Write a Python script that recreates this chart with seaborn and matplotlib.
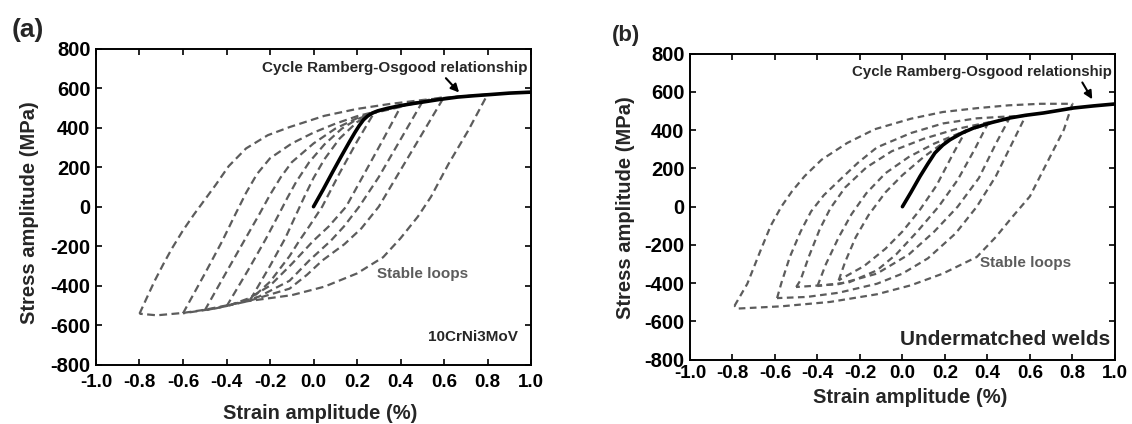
import numpy as np
import pandas as pd
import matplotlib
matplotlib.use("Agg")
import matplotlib.pyplot as plt
import seaborn as sns

# ============================================================
# DATA - strain amplitude in %, stress in MPa
# ============================================================

X_TICKS = [-1.0, -0.8, -0.6, -0.4, -0.2, 0.0, 0.2, 0.4, 0.6, 0.8, 1.0]
Y_TICKS = [-800, -600, -400, -200, 0, 200, 400, 600, 800]

# ---- panel (a) : 10CrNi3MoV ----
A_RO_STRAIN = [0.0, 0.045, 0.088, 0.125, 0.165, 0.19, 0.21, 0.23, 0.25, 0.27, 0.295, 0.34,
               0.387, 0.45, 0.51, 0.58, 0.663, 0.74, 0.816, 0.9, 1.0]
A_RO_STRESS = [0, 88, 176, 250, 328, 375, 410, 440, 460, 474, 485, 498,
               509, 521, 531, 543, 555, 562, 568, 575, 580]

A1_STRAIN = [-0.80, -0.77, -0.73, -0.69, -0.65, -0.6, -0.55, -0.5, -0.45, -0.39, -0.31, -0.21,
             -0.11, 0.05, 0.2, 0.35, 0.5, 0.65, 0.80, 0.71, 0.62, 0.54, 0.48, 0.40, 0.32, 0.2,
             0.05, -0.1, -0.3, -0.5, -0.6, -0.72, -0.80]
A1_STRESS = [-542, -470, -375, -290, -210, -120, -40, 35, 110, 205, 295, 362,
             403, 460, 495, 520, 540, 556, 568, 383, 215, 50, -50, -160, -256, -338,
             -405, -448, -478, -522, -538, -550, -542]

A2_STRAIN = [-0.6, -0.5, -0.42, -0.36, -0.31, -0.26, -0.2, -0.1, 0.0, 0.1, 0.2, 0.28, 0.4, 0.5, 0.6,
             0.5, 0.4, 0.3, 0.22, 0.142, 0.04, -0.03, -0.11, -0.3, -0.45, -0.6]
A2_STRESS = [-540, -340, -175, -40, 70, 165, 245, 320, 375, 420, 458, 480, 512, 535, 555,
             370, 185, 0, -110, -190, -273, -345, -415, -478, -515, -540]

A3_STRAIN = [-0.5, -0.4, -0.32, -0.25, -0.2, -0.15, -0.1, 0.0, 0.1, 0.2, 0.28, 0.4, 0.5,
             0.4, 0.3, 0.21, 0.14, 0.08, -0.02, -0.11, -0.25, -0.4, -0.5]
A3_STRESS = [-525, -330, -175, -40, 60, 150, 225, 320, 395, 448, 478, 508, 530,
             340, 150, 0, -100, -172, -273, -375, -455, -503, -525]

A4_STRAIN = [-0.4, -0.3, -0.22, -0.16, -0.12, -0.08, -0.02, 0.05, 0.13, 0.2, 0.28, 0.4,
             0.32, 0.24, 0.15, 0.07, 0.0, -0.1, -0.2, -0.3, -0.4]
A4_STRESS = [-505, -320, -165, -40, 45, 125, 225, 315, 395, 443, 475, 505,
             340, 180, 0, -100, -172, -290, -400, -465, -505]

A5_STRAIN = [-0.29, -0.2, -0.13, -0.08, -0.04, 0.0, 0.05, 0.12, 0.2, 0.28,
             0.2, 0.12, 0.04, -0.02, -0.065, -0.11, -0.2, -0.29]
A5_STRESS = [-470, -300, -160, -40, 55, 145, 240, 345, 428, 478,
             330, 170, 0, -100, -172, -250, -380, -470]

# ---- panel (b) : undermatched welds ----
B_RO_STRAIN = [0.0, 0.04, 0.083, 0.12, 0.153, 0.19, 0.224, 0.28, 0.334, 0.42, 0.506, 0.58,
               0.664, 0.735, 0.805, 0.9, 1.0]
B_RO_STRESS = [0, 75, 159, 225, 281, 322, 350, 385, 411, 440, 464, 478,
               490, 503, 516, 527, 537]

B1_STRAIN = [-0.79, -0.73, -0.67, -0.62, -0.57, -0.52, -0.46, -0.38, -0.26, -0.13, 0.04, 0.19, 0.35,
             0.5, 0.65, 0.8, 0.76, 0.68, 0.6, 0.52, 0.44, 0.35, 0.19, 0.04, -0.12, -0.34, -0.57,
             -0.78, -0.79]
B1_STRESS = [-518, -403, -235, -100, 0, 80, 160, 246, 333, 405, 460, 495, 515,
             530, 538, 538, 403, 229, 54, -50, -158, -263, -350, -411, -458, -498, -521,
             -533, -518]

B2_STRAIN = [-0.59, -0.57, -0.53, -0.48, -0.43, -0.37, -0.29, -0.21, -0.12, 0.04, 0.19, 0.35, 0.47,
             0.58, 0.52, 0.44, 0.35, 0.25, 0.12, 0.0, -0.12, -0.3, -0.45, -0.59]
B2_STRESS = [-478, -400, -263, -132, -25, 60, 145, 229, 310, 385, 435, 462, 470,
             475, 340, 160, 0, -140, -270, -350, -403, -450, -472, -478]

B3_STRAIN = [-0.5, -0.48, -0.44, -0.39, -0.34, -0.27, -0.17, -0.05, 0.1, 0.25, 0.4, 0.5,
             0.44, 0.36, 0.26, 0.15, 0.03, -0.12, -0.3, -0.5]
B3_STRESS = [-420, -385, -260, -120, -10, 100, 205, 290, 355, 405, 440, 455,
             330, 150, 0, -130, -250, -350, -405, -420]

B4_STRAIN = [-0.4, -0.36, -0.3, -0.24, -0.17, -0.08, 0.03, 0.15, 0.27, 0.4,
             0.34, 0.26, 0.17, 0.07, -0.03, -0.12, -0.25, -0.4]
B4_STRESS = [-415, -300, -160, -40, 70, 175, 260, 330, 385, 430,
             300, 140, 0, -130, -250, -333, -395, -415]

B5_STRAIN = [-0.3, -0.27, -0.22, -0.16, -0.08, 0.0, 0.1, 0.2, 0.3,
             0.24, 0.16, 0.08, 0.0, -0.08, -0.18, -0.3]
B5_STRESS = [-385, -290, -160, -45, 75, 165, 260, 340, 400,
             280, 110, -20, -130, -220, -310, -385]

LOOP_GREY = "#5c5c5c"

# ============================================================
# STYLE
# ============================================================

sns.set_theme(style="ticks")
plt.rcParams["font.family"] = ["Liberation Sans", "DejaVu Sans"]
plt.rcParams["font.weight"] = "bold"
plt.rcParams["axes.unicode_minus"] = False


def loops_frame(loops):
    parts = []
    for k, (xs, ys) in enumerate(loops):
        parts.append(pd.DataFrame({"strain": xs, "stress": ys, "loop": k}))
    return pd.concat(parts, ignore_index=True)


def draw_panel(ax, loops, ro_x, ro_y, dash, xpad):
    df = loops_frame(loops)
    sns.lineplot(data=df, x="strain", y="stress", units="loop", estimator=None,
                 sort=False, color=LOOP_GREY, lw=1.6, linestyle=(0, dash),
                 legend=False, ax=ax)
    sns.lineplot(x=ro_x, y=ro_y, estimator=None, sort=False, color="black",
                 lw=2.6, ax=ax)

    ax.set_xlim(-1.0, 1.0)
    ax.set_ylim(-800, 800)
    ax.set_xticks(X_TICKS)
    ax.set_yticks(Y_TICKS)
    ax.set_xticklabels([f"{v:.1f}" for v in X_TICKS])
    ax.set_yticklabels([f"{v:d}" for v in Y_TICKS])
    ax.tick_params(direction="in", top=True, right=True, length=4.5, width=1.2,
                   colors="black")
    ax.tick_params(axis="x", pad=xpad, labelsize=13.5)
    ax.tick_params(axis="y", pad=4, labelsize=14.5)
    for lab in ax.get_xticklabels() + ax.get_yticklabels():
        lab.set_fontweight("bold")
    for sp in ax.spines.values():
        sp.set_linewidth(1.4)
        sp.set_color("black")
        sp.set_visible(True)


fig = plt.figure(figsize=(11.32, 4.24), dpi=100)

# ---------------- panel (a) ----------------
ax1 = fig.add_axes([0.0848, 0.1399, 0.3843, 0.7453])
draw_panel(ax1,
           [(A1_STRAIN, A1_STRESS), (A2_STRAIN, A2_STRESS), (A3_STRAIN, A3_STRESS),
            (A4_STRAIN, A4_STRESS), (A5_STRAIN, A5_STRESS)],
           A_RO_STRAIN, A_RO_STRESS, (3.5, 2.0), xpad=7)
ax1.set_xlabel("Strain amplitude (%)", fontsize=14.5, fontweight="bold", va="center")
ax1.set_ylabel("Stress amplitude (MPa)", fontsize=14.5, fontweight="bold", va="center")
ax1.xaxis.set_label_coords(0.515, -0.153)
ax1.yaxis.set_label_coords(-0.152, 0.48)

ax1.text(-0.238, 701, "Cycle Ramberg-Osgood relationship", fontsize=11,
         fontweight="bold", ha="left", va="center")
ax1.annotate("", xy=(0.678, 568), xytext=(0.60, 661),
             arrowprops=dict(arrowstyle="-|>", color="black", lw=1.5, mutation_scale=12))
ax1.text(0.502, -341, "Stable loops", fontsize=11, fontweight="bold",
         color=LOOP_GREY, ha="center", va="center")
ax1.text(0.94, -660, "10CrNi3MoV", fontsize=11, fontweight="bold",
         ha="right", va="center")

# ---------------- panel (b) ----------------
ax2 = fig.add_axes([0.6095, 0.1517, 0.3754, 0.7217])
draw_panel(ax2,
           [(B1_STRAIN, B1_STRESS), (B2_STRAIN, B2_STRESS), (B3_STRAIN, B3_STRESS),
            (B4_STRAIN, B4_STRESS), (B5_STRAIN, B5_STRESS)],
           B_RO_STRAIN, B_RO_STRESS, (3.0, 2.0), xpad=3.5)
ax2.set_xlabel("Strain amplitude (%)", fontsize=14.5, fontweight="bold", va="center")
ax2.set_ylabel("Stress amplitude (MPa)", fontsize=14.5, fontweight="bold", va="center")
ax2.xaxis.set_label_coords(0.519, -0.122)
ax2.yaxis.set_label_coords(-0.151, 0.496)

ax2.text(-0.236, 706, "Cycle Ramberg-Osgood relationship", fontsize=10.8,
         fontweight="bold", ha="left", va="center")
ax2.annotate("", xy=(0.90, 549), xytext=(0.84, 662),
             arrowprops=dict(arrowstyle="-|>", color="black", lw=1.5, mutation_scale=12))
ax2.text(0.365, -294, "Stable loops", fontsize=11, fontweight="bold",
         color=LOOP_GREY, ha="left", va="center")
ax2.text(0.98, -697, "Undermatched welds", fontsize=15, fontweight="bold",
         ha="right", va="center")

# panel letters
fig.text(28 / 1132, 1 - 30 / 424, "(a)", fontsize=19, fontweight="bold",
         ha="center", va="center")
fig.text(626 / 1132, 1 - 35 / 424, "(b)", fontsize=16, fontweight="bold",
         ha="center", va="center")

fig.savefig("out.png", dpi=100)
